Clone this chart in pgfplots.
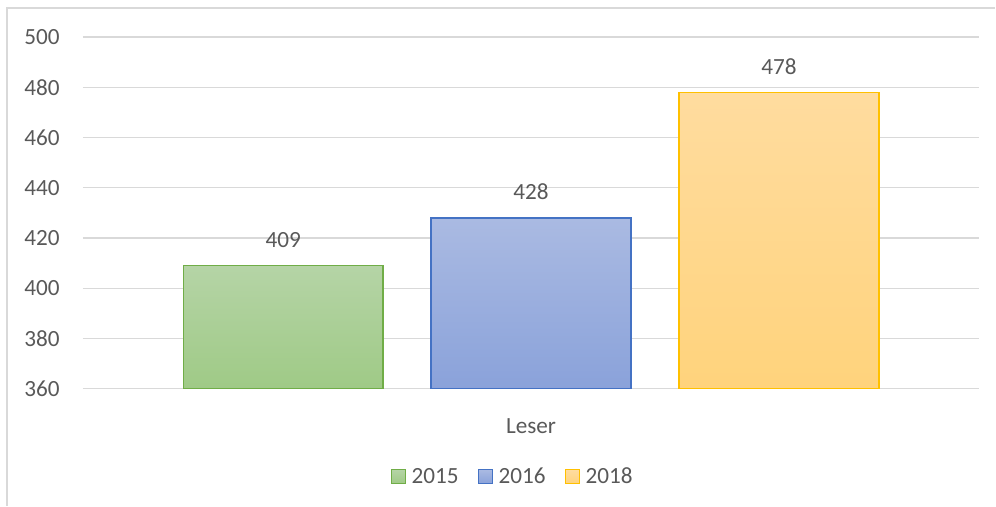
\documentclass[border=0pt]{standalone}
\usepackage{fontspec}
\setmainfont{Carlito}
\usepackage{pgfplots}
\pgfplotsset{compat=1.18}
\definecolor{txt}{HTML}{595959}
\definecolor{gridc}{HTML}{D9D9D9}
\definecolor{gline}{HTML}{70AD47}
\definecolor{gtop}{HTML}{B5D4A6}
\definecolor{gbot}{HTML}{9FCA86}
\definecolor{bline}{HTML}{4472C4}
\definecolor{btop}{HTML}{AABAE2}
\definecolor{bbot}{HTML}{8AA2DA}
\definecolor{oline}{HTML}{FFC000}
\definecolor{otop}{HTML}{FFDC9F}
\definecolor{obot}{HTML}{FFD37C}
\begin{document}
\begin{tikzpicture}
\path (0,0) rectangle (747pt,-379.5pt);
\draw[gridc,line width=1.2pt] (5.25pt,-379.5pt) -- (5.25pt,-6pt) -- (747pt,-6pt);
\begin{axis}[at={(62.25pt,-27.75pt)},anchor=north west,
  scale only axis,width=672.75pt,height=264pt,
  font=\fontsize{17.4}{20}\selectfont,
  xmin=-1,xmax=1,ymin=0,ymax=140,
  xtick={0},xticklabels={Leser},
  ytick={0,20,...,140},yticklabels={360,380,400,420,440,460,480,500},
  y filter/.expression={y-360},
  tick style={draw=none},
  axis line style={draw=none},
  ymajorgrids,grid style={draw=gridc,line width=0.9pt},
  ticklabel style={text=txt},
  yticklabel style={anchor=east,inner sep=0pt,xshift=-17.25pt},
  xticklabel style={anchor=north,inner sep=0pt,yshift=-18pt},
  ybar=36pt,bar width=150pt,
  nodes near coords,point meta=rawy,
  /pgf/number format/assume math mode=true,
  every node near coord/.append style={text=txt,inner sep=0pt,yshift=13pt,anchor=south},
  legend columns=3,
  legend style={at={(0.48,-0.25)},anchor=center,draw=none,fill=none,text=txt,
    /tikz/every even column/.append style={column sep=12.5pt}},
  legend image code/.code={\draw[#1,line width=1.1pt] (0pt,-5.25pt) rectangle (10.5pt,5.25pt);\path (12.4pt,0pt);},
]
\addplot[draw=gline,line width=1.1pt,top color=gtop,bottom color=gbot] coordinates {(0,409)};
\addplot[draw=bline,line width=1.1pt,top color=btop,bottom color=bbot] coordinates {(0,428)};
\addplot[draw=oline,line width=1.1pt,top color=otop,bottom color=obot] coordinates {(0,478)};
\legend{2015,2016,2018}
\end{axis}
\end{tikzpicture}
\end{document}
